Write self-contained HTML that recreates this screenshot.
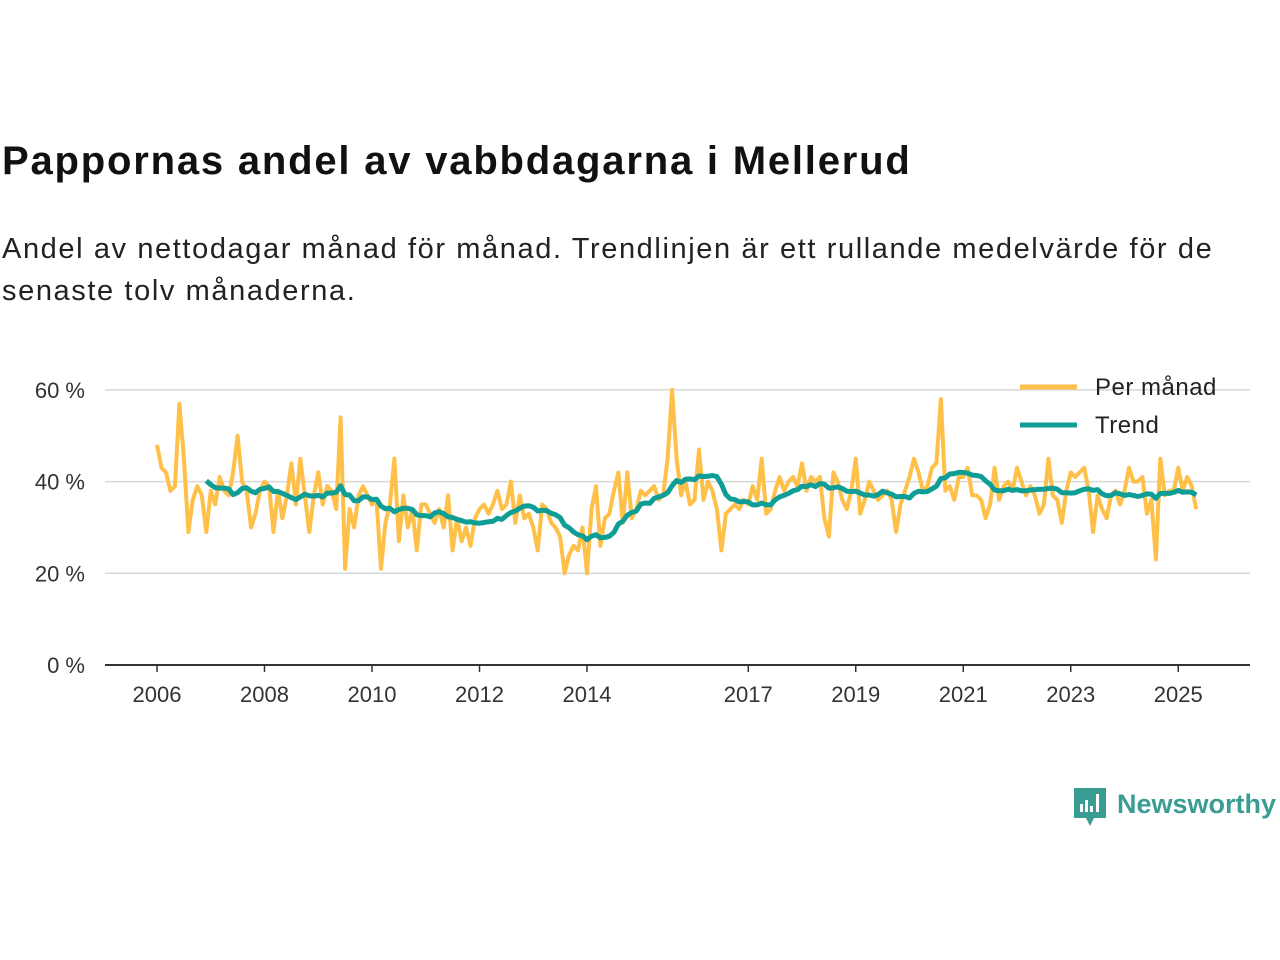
<!DOCTYPE html>
<html><head><meta charset="utf-8"><style>
body{margin:0;width:1280px;height:960px;background:#fff;font-family:"Liberation Sans","DejaVu Sans",sans-serif;overflow:hidden}
#title{position:absolute;left:2px;top:139px;font-size:40px;letter-spacing:1.8px;font-weight:bold;color:#111;margin:0;white-space:nowrap}
#sub{position:absolute;left:2px;top:228px;font-size:29px;letter-spacing:1.6px;line-height:42px;color:#222;width:1280px;white-space:nowrap}
svg{position:absolute;left:0;top:0}
</style></head><body>
<h1 id="title">Pappornas andel av vabbdagarna i Mellerud</h1>
<div id="sub">Andel av nettodagar månad för månad. Trendlinjen är ett rullande medelvärde för de<br>senaste tolv månaderna.</div>
<svg id="chart" width="1280" height="960"></svg>
<script>
const monthly = [
48,43,42,38,39,57,45,29,36,39,37,29,
38,35,41,38,37,42,50,40,38,30,33,38,
40,39,29,38,32,37,44,35,45,37,29,37,
42,35,39,38,34,54,21,34,30,37,39,37,
35,36,21,31,35,45,27,37,30,34,25,35,
35,33,31,34,30,37,25,32,27,30,26,32,
34,35,33,35,38,34,35,40,31,37,32,33,
30,25,35,34,31,30,28,20,24,26,25,30,
20,34,39,26,32,33,38,42,31,42,32,34,
38,37,38,39,36,37,45,60,45,37,40,35,
36,47,36,40,38,34,25,33,34,35,34,36,
35,39,36,45,33,34,38,41,38,40,41,39,
44,38,41,40,41,32,28,42,40,36,34,38,
45,33,36,40,38,36,37,38,36,29,35,38,
41,45,42,38,39,43,44,58,38,39,36,41,
41,43,37,37,36,32,35,43,36,39,40,38,
43,40,37,39,37,33,35,45,37,36,31,38,
42,41,42,43,38,29,37,34,32,37,38,35,
38,43,40,40,41,33,36,23,45,37,38,38,
43,38,41,39,34];
const startYear = 2006;
const xTickYears = [2006,2008,2010,2012,2014,2017,2019,2021,2023,2025];
const yTicks = [0,20,40,60];
const trendWindow = 12;

const NS="http://www.w3.org/2000/svg";
const svg=document.getElementById('chart');
const X=t=>157+(t-startYear)*53.75;
const Y=v=>665-v*4.585;
const mx=i=>X(startYear+i/12);
function el(tag,attrs,parent){const e=document.createElementNS(NS,tag);for(const k in attrs)e.setAttribute(k,attrs[k]);(parent||svg).appendChild(e);return e;}
yTicks.forEach(v=>{
  if(v>0){const g=el('line',{x1:105,x2:1250,y1:Y(v),y2:Y(v),stroke:'#d8d8d8','stroke-width':1.5});
  
  }
  const t=el('text',{x:85,y:Y(v)+8,'text-anchor':'end','font-size':22,fill:'#333'});
  
  
  t.textContent=v+' %';
});
const ax=el('line',{x1:105,x2:1250,y1:665,y2:665,stroke:'#333','stroke-width':2});


xTickYears.forEach(yr=>{
  const tk=el('line',{x1:X(yr),x2:X(yr),y1:665,y2:672,stroke:'#333','stroke-width':1.5});
  
  
  const t=el('text',{x:X(yr),y:702,'text-anchor':'middle','font-size':22,fill:'#333'});
  
  
  t.textContent=yr;
});
const mp=monthly.map((v,i)=>mx(i).toFixed(1)+','+Y(v).toFixed(1)).join(' ');
const ml=el('polyline',{points:mp,fill:'none',stroke:'#ffc04a','stroke-width':4,'stroke-linejoin':'round'});


const tp=[];
for(let i=trendWindow-1;i<monthly.length;i++){let s=0;for(let j=i-trendWindow+1;j<=i;j++)s+=monthly[j];tp.push(mx(i).toFixed(1)+','+Y(s/trendWindow).toFixed(1));}
const tl=el('polyline',{points:tp.join(' '),fill:'none',stroke:'#0f9e95','stroke-width':5,'stroke-linejoin':'round'});


[['Per månad','#ffc04a',387],['Trend','#0f9e95',425]].forEach(([n,c,y])=>{
  const g=el('g',{});
  
  
  el('line',{x1:1020,x2:1077,y1:y,y2:y,stroke:c,'stroke-width':5},g);
  const t=el('text',{x:1095,y:y+8,'font-size':24,'letter-spacing':0.5,fill:'#222'},g);
  t.textContent=n;
});
const lg=el('g',{});


el('path',{d:'M1074 788 h32 v30 h-12 l-4 8 l-4 -8 h-12 z',fill:'#3a9d94'},lg);
el('rect',{x:1080,y:804,width:3,height:8,fill:'#fff'},lg);
el('rect',{x:1085,y:800,width:3,height:12,fill:'#fff'},lg);
el('rect',{x:1090,y:806,width:3,height:6,fill:'#fff'},lg);
el('rect',{x:1096,y:794,width:3,height:18,fill:'#fff'},lg);
const lt=el('text',{x:1117,y:813,'font-size':27,'font-weight':'bold',fill:'#3a9d94'},lg);
lt.textContent='Newsworthy';
</script>
</body></html>
